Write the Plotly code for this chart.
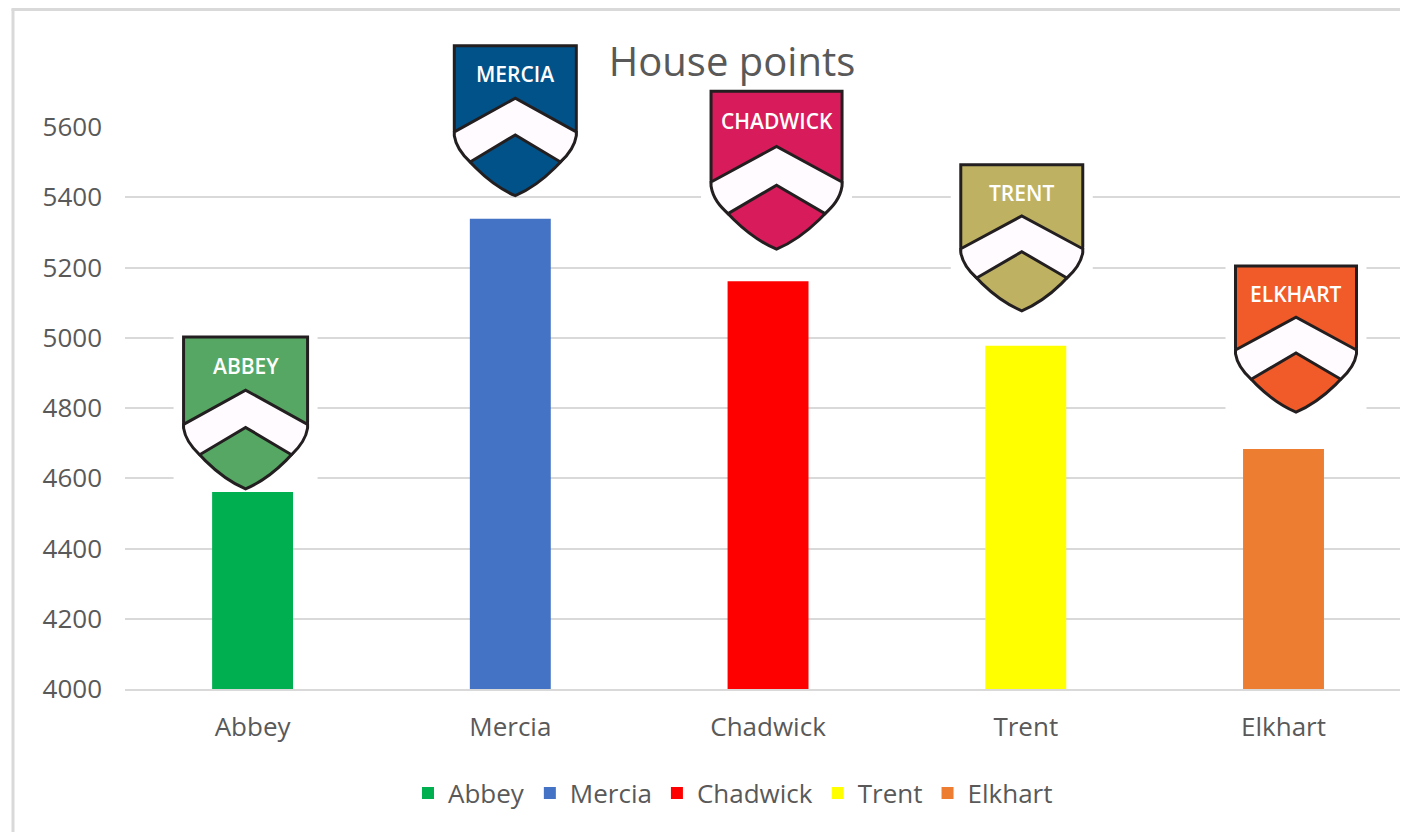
import plotly.graph_objects as go

# ---- data ----
houses = ["Abbey", "Mercia", "Chadwick", "Trent", "Elkhart"]
points = [4561, 5339, 5161, 4977, 4683]
bar_colors = ["#00B050", "#4472C4", "#FF0000", "#FFFF00", "#ED7D31"]
shield_labels = ["ABBEY", "MERCIA", "CHADWICK", "TRENT", "ELKHART"]
shield_colors = ["#56A764", "#02528A", "#D81B5A", "#BEB262", "#F15A29"]

# ---- layout geometry ----
OFF = 8                      # page body margin offset of the figure in the browser
W, H = 1392, 824             # figure size (fits the 1408x840 window incl. body margins)
ML = 125 - OFF
MT = 127 - OFF
MB = H - (689 - OFF)
MR = 0
PW, PH = W - ML - MR, H - MT - MB
X_RANGE = [-0.495, 4.452]
Y_RANGE = [4000, 5600]
TEXT = "#595959"
GRID = "#D9D9D9"

def px_x(sx):   # screen px -> paper x
    return (sx - OFF - ML) / PW

def px_y(sy):   # screen px -> paper y
    return (H - MB - (sy - OFF)) / PH

def val_to_paper_x(i):
    return (i - X_RANGE[0]) / (X_RANGE[1] - X_RANGE[0])

def val_to_paper_y(v):
    return (v - Y_RANGE[0]) / (Y_RANGE[1] - Y_RANGE[0])

fig = go.Figure()
for h, v, c in zip(houses, points, bar_colors):
    fig.add_trace(go.Bar(x=[h], y=[v], name=h, marker=dict(color=c, line=dict(width=0)),
                         width=0.314, hoverinfo="x+y"))

# shield decoration placement: (dx px from bar centre, gap px above bar, width px, height px)
shield_place = [(-7, 3, 124, 152), (5, 23, 122, 150), (8.5, 32, 131, 158),
                (-4, 35, 122, 146), (12.5, 37, 121, 146)]

shapes = []
annotations = []

def shield_paths(cxp, tipp, w, h):
    def P(nx, ny):
        x = cxp + (nx - 0.5) * w / PW
        y = tipp + (1 - ny) * h / PH
        return f"{x:.5f},{y:.5f}"
    outline = (f"M{P(0,0)} L{P(1,0)} L{P(1,0.56)} C{P(1,0.72)} {P(0.7,0.93)} {P(0.5,1)} "
               f"C{P(0.3,0.93)} {P(0,0.72)} {P(0,0.56)} Z")
    chev = (f"M{P(0,0.575)} L{P(0.5,0.35)} L{P(1,0.575)} L{P(1,0.6)} "
            f"C{P(0.985,0.68)} {P(0.93,0.73)} {P(0.87,0.775)} "
            f"L{P(0.5,0.595)} L{P(0.13,0.775)} "
            f"C{P(0.07,0.73)} {P(0.015,0.68)} {P(0,0.6)} Z")
    return outline, chev

for i, (lab, col, v) in enumerate(zip(shield_labels, shield_colors, points)):
    dx, gap, w, h = shield_place[i]
    cxp = val_to_paper_x(i) + dx / PW
    tipp = val_to_paper_y(v) + gap / PH
    shapes.append(dict(type="rect", xref="paper", yref="paper",
                       x0=cxp - (w / 2 + 10) / PW, x1=cxp + (w / 2 + 10) / PW,
                       y0=tipp + 1.5 / PH, y1=tipp + (h + 8) / PH,
                       fillcolor="white", line=dict(width=0), layer="above"))
    outline, chev = shield_paths(cxp, tipp, w, h)
    shapes.append(dict(type="path", xref="paper", yref="paper", path=outline,
                       fillcolor=col, line=dict(color="#231F20", width=3), layer="above"))
    shapes.append(dict(type="path", xref="paper", yref="paper", path=chev,
                       fillcolor="#FFFBFF", line=dict(color="#231F20", width=3), layer="above"))
    annotations.append(dict(xref="paper", yref="paper", x=cxp, y=tipp + h * 0.81 / PH,
                            text=lab, showarrow=False, xanchor="center", yanchor="middle",
                            font=dict(family="Open Sans", size=21, color="white", weight=600)))

# chart-area border: left and top edges
shapes.append(dict(type="line", xref="paper", yref="paper",
                   x0=px_x(13), x1=px_x(13), y0=px_y(9), y1=px_y(900),
                   line=dict(color=GRID, width=3), layer="below"))
shapes.append(dict(type="line", xref="paper", yref="paper",
                   x0=px_x(11.5), x1=px_x(1500), y0=px_y(9.5), y1=px_y(9.5),
                   line=dict(color=GRID, width=3), layer="below"))

fig.update_layout(
    width=W, height=H, autosize=False,
    margin=dict(l=ML, r=MR, t=MT, b=MB),
    paper_bgcolor="white", plot_bgcolor="white",
    barmode="overlay",
    font=dict(family="Open Sans", color=TEXT, size=26),
    title=dict(text="House points", x=(732 - OFF) / W, xanchor="center",
               y=1 - (62 - OFF) / H, yanchor="middle", yref="container",
               font=dict(family="Open Sans", size=40, color=TEXT)),
    xaxis=dict(range=X_RANGE, showgrid=False, showline=True, linecolor=GRID, linewidth=2,
               ticks="", tickfont=dict(size=26, color=TEXT), ticklabelstandoff=14,
               fixedrange=True),
    yaxis=dict(range=Y_RANGE, dtick=200, showgrid=True, gridcolor=GRID, gridwidth=2,
               zeroline=False, showline=False, ticks="", tickfont=dict(size=26, color=TEXT),
               ticklabelstandoff=22, fixedrange=True),
    legend=dict(orientation="h", x=px_x(733), xanchor="center", y=px_y(793), yanchor="middle",
                font=dict(size=26, color=TEXT), itemclick=False, bgcolor="rgba(0,0,0,0)"),
    showlegend=True,
    shapes=shapes,
    annotations=annotations,
)

fig.write_html("out.html")
